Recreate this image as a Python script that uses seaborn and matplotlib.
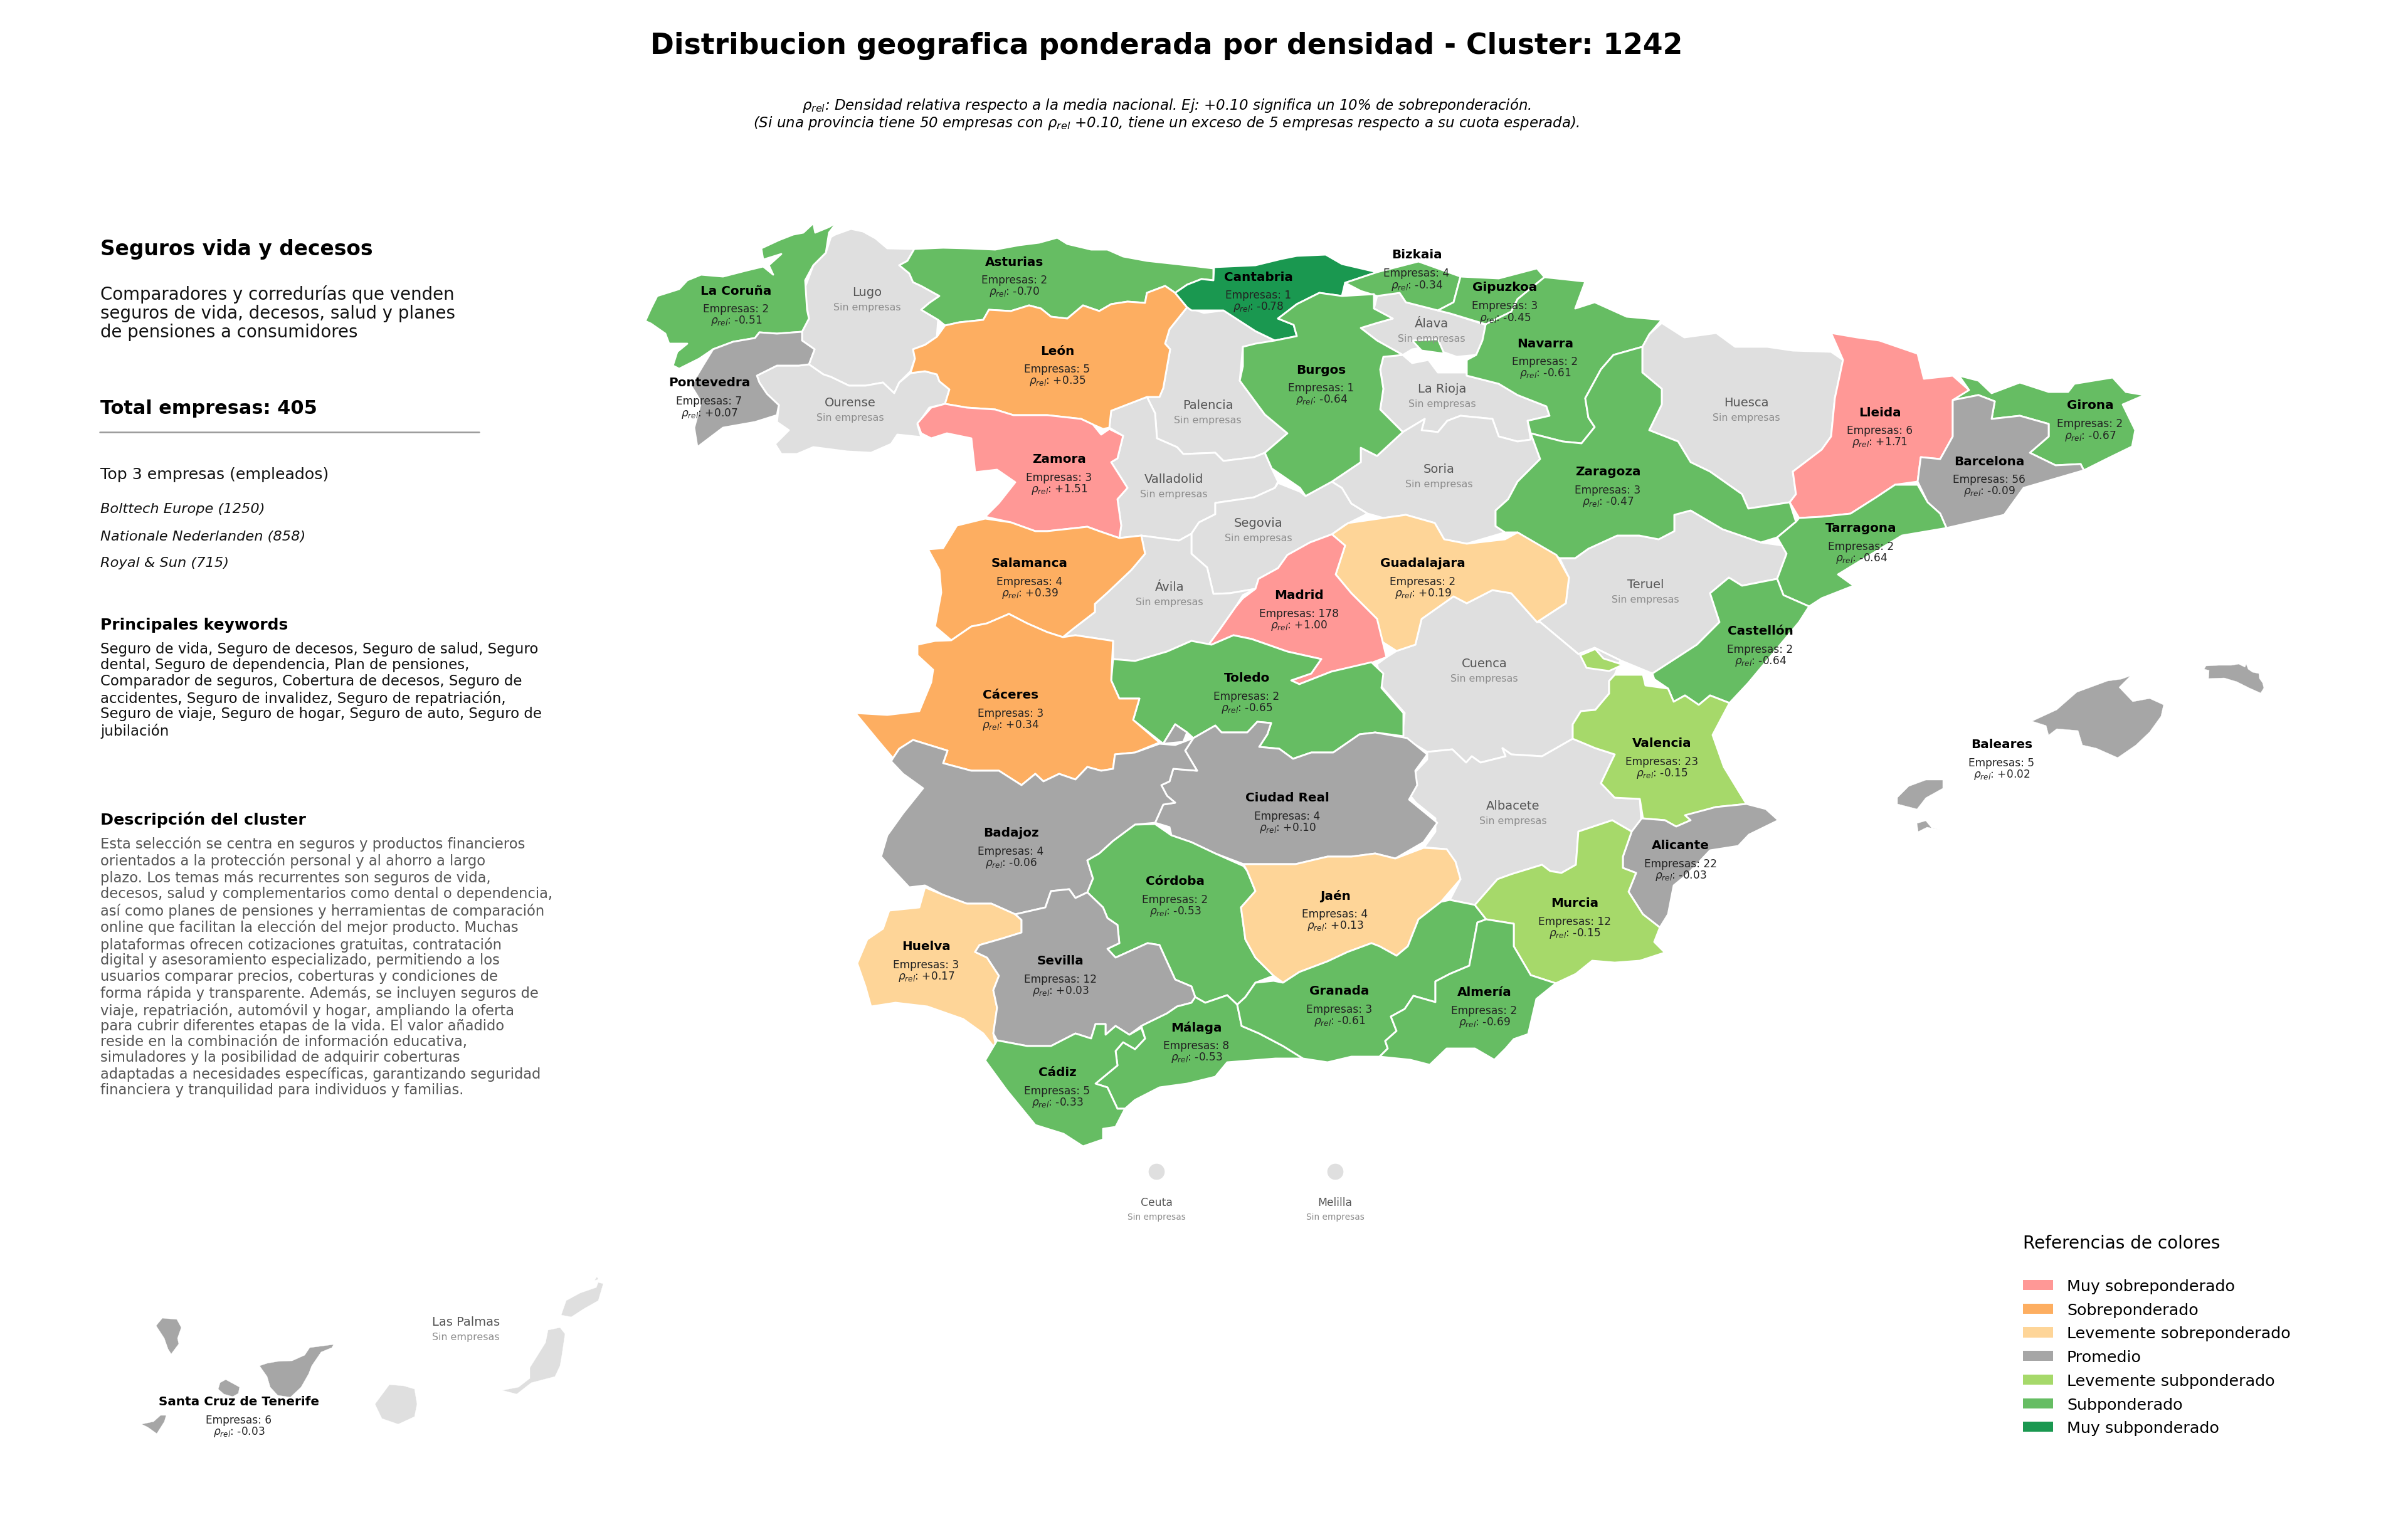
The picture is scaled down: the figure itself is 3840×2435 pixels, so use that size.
import matplotlib
matplotlib.use("Agg")
import matplotlib.pyplot as plt
from matplotlib.patches import Patch
import seaborn as sns

LA_CORUNA = [(1335,355),(1322,372),(1317,404),(1297,424),(1284,448),(1287,495),(1290,509),(1279,530),(1239,533),(1211,531),(1204,540),(1169,546),(1137,558),(1115,573),(1083,589),(1073,584),(1080,562),(1096,549),(1067,549),(1061,533),(1038,517),(1029,513),(1038,493),(1048,473),(1083,462),(1096,448),(1118,439),(1153,442),(1188,433),(1217,426),(1233,439),(1226,424),(1246,406),(1217,415),(1214,397),(1242,384),(1265,375),(1281,372),(1297,357),(1300,372),(1322,363)]
LUGO = [(1332,375),(1357,366),(1376,370),(1396,381),(1415,397),(1458,398),(1447,417),(1434,424),(1450,437),(1456,451),(1469,457),(1498,473),(1482,484),(1469,495),(1496,511),(1494,538),(1475,551),(1456,558),(1459,573),(1452,593),(1434,611),(1426,628),(1408,611),(1380,616),(1354,616),(1325,602),(1313,598),(1290,582),(1299,558),(1279,544),(1279,530),(1290,509),(1282,464),(1297,424),(1317,404),(1325,379)]
ASTURIAS = [(1458,398),(1504,396),(1542,397),(1587,399),(1625,392),(1657,388),(1686,380),(1702,390),(1740,399),(1766,399),(1791,410),(1829,417),(1893,424),(1935,429),(1935,448),(1916,446),(1893,455),(1874,468),(1858,457),(1829,468),(1826,484),(1798,482),(1772,486),(1753,497),(1727,488),(1702,509),(1676,506),(1660,493),(1641,488),(1612,497),(1577,495),(1568,511),(1530,515),(1507,520),(1496,511),(1469,495),(1482,484),(1498,473),(1469,457),(1456,451),(1450,437),(1434,424),(1447,417)]
LEON = [(1507,520),(1530,515),(1568,511),(1577,495),(1612,497),(1641,488),(1660,493),(1676,506),(1702,509),(1727,488),(1753,497),(1772,486),(1798,482),(1826,484),(1829,468),(1858,457),(1874,468),(1893,491),(1865,526),(1858,549),(1866,558),(1855,620),(1849,634),(1829,634),(1772,656),(1769,683),(1759,685),(1743,678),(1724,669),(1670,663),(1616,663),(1587,654),(1542,651),(1507,645),(1514,622),(1498,609),(1494,598),(1475,593),(1452,596),(1459,573),(1456,558),(1475,551),(1494,538)]
OURENSE = [(1426,628),(1434,611),(1452,596),(1475,593),(1494,598),(1498,609),(1514,622),(1507,645),(1482,651),(1463,678),(1469,698),(1431,694),(1421,709),(1389,723),(1351,721),(1297,714),(1271,725),(1246,725),(1236,709),(1258,687),(1239,674),(1242,647),(1223,629),(1211,611),(1207,600),(1239,584),(1274,584),(1290,582),(1313,598),(1325,602),(1354,616),(1380,616),(1408,611)]
PONTEVEDRA = [(1279,530),(1279,544),(1299,558),(1290,582),(1274,584),(1239,584),(1207,600),(1211,611),(1223,629),(1242,647),(1239,663),(1204,674),(1153,683),(1112,714),(1107,683),(1118,642),(1102,616),(1121,584),(1137,558),(1169,546),(1204,540),(1211,531),(1239,533)]
ZAMORA = [(1507,645),(1542,651),(1587,654),(1616,663),(1670,663),(1724,669),(1743,678),(1756,694),(1769,685),(1791,696),(1782,732),(1772,738),(1798,779),(1782,797),(1788,839),(1785,859),(1753,848),(1734,841),(1670,848),(1651,848),(1612,834),(1571,825),(1593,803),(1619,770),(1590,750),(1555,754),(1549,700),(1510,692),(1485,700),(1469,692),(1463,676),(1485,651)]
SALAMANCA = [(1571,828),(1612,834),(1651,848),(1670,848),(1734,841),(1753,848),(1785,859),(1820,855),(1826,884),(1804,910),(1766,946),(1746,964),(1746,977),(1711,1004),(1695,1017),(1670,1009),(1638,995),(1609,980),(1574,995),(1549,1000),(1517,1022),(1491,1000),(1501,946),(1498,910),(1480,877),(1504,875),(1526,839)]
CACERES = [(1517,1022),(1549,1000),(1574,995),(1609,980),(1638,995),(1670,1009),(1695,1017),(1715,1014),(1775,1023),(1772,1086),(1785,1115),(1817,1115),(1807,1149),(1849,1185),(1810,1201),(1778,1204),(1775,1227),(1756,1230),(1734,1224),(1715,1244),(1689,1235),(1664,1247),(1651,1235),(1629,1253),(1593,1230),(1549,1230),(1504,1218),(1511,1198),(1456,1181),(1434,1195),(1424,1210),(1402,1184),(1364,1138),(1415,1141),(1466,1135),(1485,1089),(1488,1069),(1463,1046),(1463,1029),(1491,1023)]
BADAJOZ = [(1424,1210),(1434,1195),(1456,1181),(1511,1198),(1504,1218),(1549,1230),(1593,1230),(1629,1253),(1651,1235),(1664,1247),(1689,1235),(1715,1244),(1734,1224),(1756,1230),(1775,1227),(1778,1204),(1810,1201),(1849,1187),(1874,1189),(1903,1178),(1890,1198),(1909,1230),(1871,1227),(1865,1247),(1852,1253),(1861,1270),(1874,1281),(1855,1284),(1842,1313),(1810,1316),(1775,1342),(1753,1362),(1734,1373),(1743,1402),(1734,1424),(1715,1433),(1705,1419),(1676,1422),(1667,1448),(1619,1459),(1581,1442),(1542,1442),(1504,1428),(1475,1413),(1450,1416),(1421,1385),(1405,1367),(1415,1333),(1440,1298),(1472,1258),(1440,1235),(1421,1215)]
BADAJOZ_ISLET = [(1855,1187),(1874,1156),(1893,1169),(1887,1184)]
CIUDAD_REAL = [(1903,1178),(1938,1158),(1948,1169),(1989,1169),(2005,1152),(2027,1154),(2021,1172),(2008,1192),(2040,1195),(2062,1211),(2091,1201),(2126,1201),(2168,1172),(2193,1169),(2244,1178),(2276,1204),(2257,1230),(2260,1253),(2247,1276),(2292,1313),(2270,1344),(2225,1370),(2193,1362),(2155,1367),(2117,1367),(2066,1379),(1983,1379),(1938,1362),(1900,1344),(1868,1333),(1865,1320),(1842,1313),(1855,1284),(1874,1281),(1861,1270),(1852,1253),(1865,1247),(1871,1227),(1909,1230),(1890,1198)]
TOLEDO = [(1775,1052),(1810,1055),(1861,1040),(1900,1023),(1932,1029),(1967,1014),(1996,1020),(2053,1040),(2107,1052),(2091,1075),(2059,1086),(2072,1092),(2123,1072),(2187,1057),(2206,1075),(2203,1098),(2238,1138),(2238,1175),(2193,1169),(2168,1172),(2126,1201),(2091,1201),(2062,1211),(2040,1195),(2008,1192),(2021,1172),(2027,1154),(2005,1152),(1989,1169),(1948,1169),(1938,1158),(1903,1178),(1893,1169),(1874,1156),(1855,1187),(1807,1149),(1817,1115),(1785,1115),(1772,1086)]
MADRID = [(2124,853),(2145,871),(2130,917),(2155,947),(2196,988),(2211,1049),(2187,1058),(2123,1072),(2072,1092),(2059,1086),(2091,1075),(2107,1052),(2053,1040),(1996,1020),(1967,1014),(1932,1029),(1926,1031),(1945,1005),(1971,968),(1982,955),(2002,940),(2007,924),(2038,907),(2053,886),(2089,866)]
GUADALAJARA = [(2124,853),(2150,835),(2206,827),(2242,822),(2288,835),(2303,861),(2339,868),(2400,861),(2420,850),(2482,886),(2502,922),(2497,963),(2451,993),(2410,947),(2380,942),(2339,963),(2318,952),(2267,988),(2257,1029),(2227,1039),(2191,1016),(2196,988),(2155,947),(2130,917),(2145,871)]
CANTABRIA = [(1936,427),(2002,424),(2043,414),(2068,409),(2114,407),(2140,422),(2196,435),(2145,452),(2140,473),(2104,468),(2068,486),(2038,509),(2063,519),(2068,537),(2033,544),(2002,529),(1951,496),(1900,496),(1893,491),(1874,468),(1893,455),(1916,446),(1935,448)]
PALENCIA = [(1893,491),(1865,526),(1858,549),(1866,558),(1855,620),(1849,634),(1829,634),(1842,660),(1845,700),(1877,714),(1887,725),(1938,723),(1951,736),(2000,730),(2017,723),(2053,692),(2017,662),(1977,608),(1982,554),(2033,544),(2002,529),(1951,496),(1920,500)]
BURGOS = [(2002,549),(2033,544),(2068,537),(2063,519),(2038,509),(2068,486),(2104,468),(2140,473),(2191,470),(2191,493),(2221,509),(2196,516),(2170,524),(2196,544),(2237,567),(2206,570),(2201,590),(2206,621),(2201,654),(2237,690),(2196,728),(2170,715),(2170,738),(2124,769),(2082,792),(2073,779),(2028,748),(2017,723),(2053,692),(2017,662),(1977,608),(1982,585),(1982,554)]
TREVINO = [(2252,544),(2293,542),(2303,565),(2267,560)]
BIZKAIA = [(2196,435),(2262,418),(2329,442),(2318,483),(2293,496),(2242,483),(2232,468),(2196,473),(2170,465),(2145,452)]
GIPUZKOA = [(2329,442),(2390,445),(2451,429),(2463,443),(2420,478),(2410,498),(2369,518),(2313,501),(2293,496),(2318,483)]
NAVARRA = [(2463,443),(2482,445),(2528,450),(2512,493),(2543,483),(2594,506),(2650,511),(2630,534),(2619,554),(2573,567),(2553,590),(2528,636),(2533,667),(2543,682),(2522,708),(2492,705),(2441,692),(2436,672),(2471,664),(2466,649),(2420,631),(2390,613),(2339,600),(2339,575),(2354,567),(2364,544),(2369,519),(2369,518),(2410,498),(2420,478)]
ALAVA = [(2196,473),(2232,468),(2242,483),(2293,496),(2313,501),(2369,519),(2364,544),(2354,567),(2323,570),(2278,554),(2252,558),(2237,567),(2196,544),(2170,524),(2196,516),(2221,509),(2191,493)]
LA_RIOJA = [(2206,570),(2237,567),(2252,580),(2278,575),(2293,595),(2339,595),(2339,600),(2390,613),(2420,631),(2466,649),(2471,664),(2436,672),(2441,702),(2420,705),(2390,697),(2380,669),(2329,664),(2308,672),(2293,690),(2267,687),(2272,669),(2237,690),(2201,654),(2206,621),(2201,590)]
SORIA = [(2237,690),(2272,669),(2267,687),(2293,690),(2308,672),(2329,664),(2380,669),(2390,697),(2420,705),(2441,702),(2441,692),(2456,733),(2420,769),(2405,797),(2385,815),(2385,840),(2400,850),(2339,868),(2303,861),(2288,835),(2242,822),(2206,827),(2181,820),(2155,804),(2140,779),(2124,769),(2170,738),(2170,715),(2196,728)]
ZARAGOZA = [(2441,692),(2492,705),(2522,708),(2543,682),(2533,667),(2528,636),(2553,590),(2573,567),(2619,554),(2619,595),(2650,621),(2650,646),(2630,687),(2676,705),(2696,738),(2727,753),(2778,789),(2788,812),(2854,802),(2864,833),(2834,858),(2808,866),(2747,845),(2696,815),(2670,822),(2670,848),(2645,861),(2614,855),(2579,855),(2533,876),(2512,891),(2487,891),(2420,850),(2400,850),(2385,840),(2385,815),(2405,797),(2420,769),(2456,733)]
HUESCA = [(2650,516),(2686,539),(2737,532),(2767,554),(2818,554),(2859,560),(2920,562),(2939,575),(2926,636),(2920,697),(2905,718),(2859,753),(2864,789),(2854,802),(2788,812),(2778,789),(2727,753),(2696,738),(2676,705),(2630,687),(2650,646),(2650,621),(2619,595),(2619,554),(2630,534)]
LLEIDA = [(2920,532),(2961,539),(2997,544),(3058,565),(3068,605),(3114,600),(3140,623),(3114,641),(3114,697),(3094,733),(3063,730),(3058,769),(3022,774),(2992,794),(2951,820),(2905,825),(2869,827),(2854,802),(2864,789),(2859,753),(2905,718),(2920,697),(2926,636),(2939,575)]
GIRONA = [(3124,600),(3155,608),(3176,628),(3221,611),(3267,626),(3298,626),(3308,613),(3369,603),(3390,626),(3420,631),(3385,646),(3405,687),(3400,713),(3359,733),(3323,751),(3318,741),(3278,743),(3237,723),(3267,697),(3267,677),(3221,664),(3176,669),(3181,641),(3155,631),(3114,639),(3140,623)]
BARCELONA = [(3114,639),(3155,631),(3181,641),(3176,669),(3221,664),(3267,677),(3267,697),(3237,723),(3278,743),(3318,741),(3323,751),(3227,779),(3196,822),(3104,843),(3094,820),(3074,802),(3058,769),(3063,730),(3094,733),(3114,697)]
TARRAGONA = [(3058,774),(3074,802),(3094,820),(3104,843),(3033,855),(2982,886),(2931,917),(2956,935),(2905,955),(2885,968),(2844,950),(2834,924),(2849,884),(2834,858),(2864,833),(2869,827),(2905,825),(2951,820),(2992,794),(3022,774)]
TERUEL = [(2487,891),(2512,891),(2533,876),(2579,855),(2614,855),(2645,861),(2670,848),(2670,822),(2696,815),(2747,845),(2808,866),(2844,871),(2849,884),(2834,924),(2778,935),(2757,922),(2727,947),(2742,993),(2706,1029),(2635,1075),(2584,1054),(2543,1034),(2517,1044),(2456,993),(2451,993),(2497,963),(2502,922)]
CASTELLON = [(2757,922),(2778,935),(2834,924),(2844,950),(2885,968),(2869,993),(2818,1054),(2788,1090),(2758,1122),(2727,1110),(2709,1125),(2687,1110),(2669,1120),(2660,1099),(2638,1084),(2635,1075),(2706,1029),(2742,993),(2727,947)]
CUENCA = [(2257,1029),(2267,988),(2318,952),(2339,963),(2380,942),(2410,947),(2451,993),(2456,993),(2517,1044),(2543,1034),(2584,1054),(2575,1077),(2566,1087),(2566,1107),(2544,1133),(2521,1135),(2508,1156),(2508,1179),(2459,1207),(2410,1204),(2396,1194),(2401,1207),(2361,1217),(2347,1207),(2338,1217),(2316,1196),(2276,1200),(2236,1176),(2240,1138),(2204,1097),(2196,1060),(2211,1049),(2227,1039)]
ADEMUZ = [(2544,1036),(2557,1051),(2588,1061),(2566,1071),(2530,1066),(2520,1046)]
VALENCIA = [(2566,1087),(2575,1077),(2620,1077),(2624,1094),(2660,1099),(2669,1120),(2687,1110),(2709,1125),(2727,1110),(2758,1122),(2731,1173),(2749,1224),(2785,1283),(2736,1288),(2691,1301),(2696,1309),(2673,1319),(2655,1309),(2620,1306),(2615,1275),(2575,1273),(2553,1250),(2575,1204),(2544,1194),(2508,1179),(2508,1156),(2521,1135),(2544,1133),(2566,1107)]
ALBACETE = [(2276,1200),(2316,1196),(2338,1217),(2347,1207),(2361,1217),(2401,1207),(2396,1194),(2410,1204),(2459,1207),(2508,1179),(2544,1194),(2575,1204),(2553,1250),(2575,1273),(2615,1275),(2618,1321),(2602,1327),(2571,1309),(2535,1321),(2517,1327),(2513,1380),(2490,1393),(2472,1390),(2459,1380),(2410,1395),(2388,1403),(2352,1444),(2312,1436),(2329,1403),(2321,1375),(2303,1355),(2271,1352),(2289,1327),(2289,1306),(2258,1281),(2249,1270),(2254,1235),(2276,1212)]
JAEN = [(1983,1379),(2066,1379),(2117,1367),(2155,1367),(2193,1362),(2225,1370),(2270,1353),(2307,1355),(2321,1375),(2329,1403),(2298,1439),(2262,1467),(2245,1510),(2227,1525),(2200,1510),(2187,1505),(2149,1519),(2117,1534),(2072,1551),(2046,1568),(2031,1557),(2002,1528),(1986,1499),(1979,1448),(2002,1422),(1989,1390)]
CORDOBA = [(1842,1315),(1868,1333),(1900,1344),(1938,1362),(1983,1382),(1989,1390),(2002,1422),(1979,1448),(1986,1499),(2002,1528),(2031,1557),(2002,1568),(1986,1591),(1973,1603),(1957,1588),(1922,1600),(1906,1591),(1900,1574),(1874,1563),(1858,1528),(1849,1508),(1830,1505),(1810,1514),(1779,1528),(1766,1514),(1785,1505),(1782,1476),(1766,1465),(1759,1448),(1734,1424),(1743,1402),(1734,1373),(1753,1362),(1775,1342),(1810,1316)]
SEVILLA = [(1619,1459),(1667,1448),(1676,1422),(1705,1419),(1715,1433),(1734,1424),(1759,1448),(1766,1465),(1782,1476),(1785,1505),(1766,1514),(1779,1528),(1810,1514),(1830,1505),(1849,1508),(1858,1528),(1874,1563),(1900,1574),(1906,1591),(1900,1600),(1877,1606),(1861,1617),(1820,1637),(1801,1651),(1779,1637),(1763,1651),(1763,1634),(1747,1634),(1740,1657),(1715,1649),(1676,1669),(1638,1669),(1590,1660),(1584,1649),(1590,1608),(1584,1580),(1593,1557),(1574,1528),(1555,1519),(1562,1508),(1600,1497),(1629,1488),(1629,1468)]
HUELVA = [(1475,1416),(1504,1428),(1542,1442),(1581,1442),(1619,1459),(1629,1468),(1629,1488),(1600,1497),(1562,1508),(1555,1519),(1574,1528),(1593,1557),(1584,1580),(1590,1608),(1584,1649),(1590,1677),(1568,1649),(1536,1626),(1479,1606),(1428,1600),(1389,1606),(1380,1574),(1367,1537),(1383,1499),(1408,1482),(1418,1453),(1466,1448)]
CADIZ = [(1590,1660),(1638,1669),(1676,1669),(1715,1649),(1740,1657),(1747,1634),(1763,1634),(1763,1651),(1779,1637),(1801,1651),(1820,1640),(1826,1657),(1810,1674),(1791,1663),(1779,1677),(1782,1700),(1747,1729),(1766,1735),(1782,1769),(1794,1769),(1779,1798),(1759,1801),(1759,1818),(1727,1829),(1696,1809),(1651,1795),(1606,1740),(1571,1692)]
MALAGA = [(1820,1637),(1861,1617),(1877,1606),(1900,1600),(1906,1591),(1922,1600),(1957,1588),(1973,1603),(1980,1637),(2008,1649),(2046,1669),(2078,1689),(2034,1689),(1957,1695),(1938,1718),(1893,1729),(1849,1735),(1810,1755),(1794,1769),(1782,1769),(1766,1735),(1747,1729),(1782,1700),(1779,1677),(1791,1663),(1810,1674),(1826,1657)]
GRANADA = [(1973,1603),(1986,1591),(2002,1568),(2031,1565),(2046,1568),(2072,1551),(2117,1534),(2149,1519),(2187,1505),(2200,1510),(2227,1525),(2245,1510),(2262,1467),(2298,1439),(2312,1436),(2352,1444),(2370,1467),(2356,1472),(2347,1520),(2343,1541),(2312,1554),(2289,1566),(2289,1599),(2254,1589),(2240,1610),(2218,1622),(2227,1645),(2209,1661),(2213,1673),(2200,1686),(2155,1686),(2117,1695),(2078,1689),(2046,1669),(2008,1649),(1980,1637)]
ALMERIA = [(2356,1472),(2370,1467),(2414,1474),(2414,1510),(2441,1556),(2481,1569),(2450,1594),(2437,1650),(2414,1658),(2401,1673),(2383,1691),(2352,1673),(2334,1673),(2307,1673),(2280,1699),(2249,1691),(2200,1686),(2213,1673),(2209,1661),(2227,1645),(2218,1622),(2240,1610),(2254,1589),(2289,1599),(2289,1566),(2312,1554),(2343,1541),(2347,1520)]
MURCIA = [(2513,1380),(2517,1327),(2535,1321),(2571,1309),(2602,1327),(2588,1367),(2588,1385),(2609,1393),(2597,1423),(2620,1459),(2647,1480),(2638,1503),(2655,1520),(2615,1533),(2575,1536),(2539,1533),(2513,1554),(2481,1569),(2441,1556),(2414,1510),(2414,1474),(2370,1467),(2352,1444),(2388,1403),(2410,1395),(2459,1380),(2472,1390),(2490,1393)]
ALICANTE = [(2618,1306),(2655,1309),(2673,1319),(2696,1309),(2687,1301),(2736,1288),(2785,1283),(2816,1291),(2836,1309),(2789,1332),(2772,1350),(2727,1357),(2691,1395),(2669,1413),(2660,1459),(2647,1480),(2620,1459),(2597,1423),(2609,1393),(2588,1385),(2588,1367),(2602,1327)]
SEGOVIA = [(1900,852),(1912,834),(1938,821),(1938,803),(2000,794),(2033,779),(2038,771),(2073,785),(2082,792),(2124,769),(2140,779),(2155,804),(2181,820),(2145,838),(2124,853),(2089,866),(2053,886),(2038,907),(2007,924),(2002,940),(1961,947),(1935,948),(1925,906),(1900,884)]
AVILA = [(1820,855),(1826,884),(1804,910),(1766,946),(1746,964),(1746,977),(1711,1004),(1695,1017),(1715,1014),(1775,1023),(1775,1052),(1810,1055),(1861,1040),(1900,1023),(1926,1031),(1945,1005),(1971,968),(1982,950),(2002,940),(1961,947),(1935,948),(1925,906),(1900,884),(1900,852),(1880,863)]
VALLADOLID = [(1769,683),(1772,656),(1829,634),(1842,660),(1845,700),(1877,714),(1887,725),(1938,723),(1951,736),(2000,730),(2017,723),(2028,748),(2038,769),(2033,779),(2000,794),(1938,803),(1938,821),(1912,834),(1900,852),(1880,863),(1820,855),(1785,859),(1788,839),(1782,797),(1798,779),(1772,738),(1782,732),(1791,696)]
MALLORCA = [(3241,1151),(3280,1133),(3312,1105),(3361,1087),(3383,1084),(3397,1079),(3379,1097),(3401,1120),(3428,1115),(3450,1125),(3446,1143),(3428,1168),(3406,1189),(3377,1209),(3343,1194),(3321,1189),(3314,1166),(3280,1163),(3267,1173),(3263,1158)]
MENORCA = [(3515,1068),(3518,1063),(3538,1062),(3558,1062),(3570,1060),(3580,1065),(3582,1060),(3585,1068),(3592,1073),(3602,1075),(3603,1083),(3608,1090),(3610,1098),(3605,1106),(3587,1098),(3567,1088),(3547,1082),(3522,1083),(3523,1070)]
IBIZA = [(3026,1273),(3044,1255),(3071,1245),(3098,1245),(3098,1258),(3071,1273),(3057,1291),(3026,1283)]
FORMENTERA = [(3057,1314),(3071,1310),(3080,1321),(3093,1324),(3073,1320),(3059,1327)]
LA_PALMA = [(249,2115),(259,2103),(282,2105),(289,2118),(283,2135),(285,2144),(273,2160),(268,2152),(262,2135)]
TENERIFE = [(414,2179),(426,2175),(443,2172),(466,2171),(486,2162),(494,2150),(517,2147),(532,2145),(529,2150),(512,2157),(497,2179),(492,2192),(480,2213),(463,2229),(443,2226),(431,2213),(426,2196)]
LA_GOMERA = [(351,2206),(360,2201),(382,2213),(380,2223),(371,2228),(357,2224),(348,2216)]
EL_HIERRO = [(226,2272),(245,2268),(256,2258),(265,2258),(262,2268),(250,2287),(236,2277)]
GRAN_CANARIA = [(598,2240),(621,2209),(644,2211),(661,2216),(665,2240),(661,2260),(635,2272),(609,2263)]
FUERTEVENTURA = [(801,2218),(827,2213),(845,2199),(845,2182),(870,2142),(874,2122),(893,2118),(901,2128),(896,2162),(893,2179),(885,2196),(847,2206),(824,2224)]
LANZAROTE = [(895,2098),(903,2075),(925,2063),(951,2054),(954,2046),(962,2048),(954,2075),(931,2088),(911,2101)]
LA_GRACIOSA = [(948,2043),(952,2037),(954,2041)]

CATEGORIES = ["Muy sobreponderado", "Sobreponderado", "Levemente sobreponderado", "Promedio",
              "Levemente subponderado", "Subponderado", "Muy subponderado"]
CATEGORY_COLORS = ["#FF9896", "#FDAE61", "#FED598", "#A6A6A6", "#A6D96A", "#66BD63", "#1A9850"]
EMPTY_COLOR = "#DFDFDF"

# provinces with companies
PROVINCES = ["La Coruña", "Asturias", "Pontevedra", "León", "Zamora", "Salamanca", "Cantabria", "Bizkaia",
             "Gipuzkoa", "Navarra", "Burgos", "Zaragoza", "Lleida", "Girona", "Barcelona", "Tarragona",
             "Guadalajara", "Madrid", "Castellón", "Toledo", "Cáceres", "Ciudad Real", "Badajoz", "Córdoba",
             "Jaén", "Huelva", "Sevilla", "Málaga", "Granada", "Cádiz", "Valencia", "Alicante", "Murcia",
             "Almería", "Baleares", "Santa Cruz de Tenerife"]
EMPRESAS = [2, 2, 7, 5, 3, 4, 1, 4, 3, 2, 1, 3, 6, 2, 56, 2, 2, 178, 2, 2, 3, 4, 4, 2, 4, 3, 12, 8, 3, 5, 23, 22, 12, 2, 5, 6]
RHO = [-0.51, -0.70, 0.07, 0.35, 1.51, 0.39, -0.78, -0.34, -0.45, -0.61, -0.64, -0.47, 1.71, -0.67, -0.09, -0.64,
       0.19, 1.00, -0.64, -0.65, 0.34, 0.10, -0.06, -0.53, 0.13, 0.17, 0.03, -0.53, -0.61, -0.33, -0.15, -0.03,
       -0.15, -0.69, 0.02, -0.03]
BANDS = [5, 5, 3, 1, 0, 1, 6, 5, 5, 5, 5, 5, 0, 5, 3, 5, 2, 0, 5, 5, 1, 3, 3, 5, 2, 2, 3, 5, 5, 5, 4, 3, 4, 5, 3, 3]
OUTLINES = [[LA_CORUNA], [ASTURIAS], [PONTEVEDRA], [LEON], [ZAMORA], [SALAMANCA], [CANTABRIA], [BIZKAIA],
            [GIPUZKOA], [NAVARRA], [BURGOS], [ZARAGOZA], [LLEIDA], [GIRONA], [BARCELONA], [TARRAGONA],
            [GUADALAJARA], [MADRID], [CASTELLON], [TOLEDO], [CACERES], [CIUDAD_REAL], [BADAJOZ, BADAJOZ_ISLET], [CORDOBA],
            [JAEN], [HUELVA], [SEVILLA], [MALAGA], [GRANADA], [CADIZ], [VALENCIA], [ALICANTE], [MURCIA],
            [ALMERIA], [MALLORCA, MENORCA, IBIZA, FORMENTERA], [LA_PALMA, TENERIFE, LA_GOMERA, EL_HIERRO]]
ISLAND_GROUPS = ["Baleares", "Santa Cruz de Tenerife", "Las Palmas"]
LABEL_X = [1174, 1618, 1131, 1686, 1689, 1642, 2007, 2259, 2400, 2464, 2107, 2564, 2998, 3333, 3172, 2968,
           2269, 2071, 2807, 1988, 1612, 2053, 1612, 1874, 2129, 1477, 1691, 1908, 2136, 1686, 2650, 2680, 2511,
           2367, 3192, 381]
LABEL_Y = [464, 418, 611, 560, 733, 899, 442, 407, 459, 548, 590, 753, 658, 647, 736, 843,
           899, 950, 1007, 1082, 1109, 1273, 1329, 1406, 1429, 1510, 1533, 1639, 1581, 1711, 1186, 1349, 1441,
           1583, 1188, 2236]

# provinces without companies
EMPTY_PROVINCES = ["Lugo", "Ourense", "Palencia", "Valladolid", "Segovia", "Ávila", "Álava", "La Rioja", "Soria",
                   "Huesca", "Teruel", "Cuenca", "Albacete", "Las Palmas"]
EMPTY_OUTLINES = [[LUGO], [OURENSE], [PALENCIA], [VALLADOLID], [SEGOVIA], [AVILA], [ALAVA], [LA_RIOJA], [SORIA],
                  [HUESCA], [TERUEL], [CUENCA], [ALBACETE], [GRAN_CANARIA, FUERTEVENTURA, LANZAROTE, LA_GRACIOSA]]
EMPTY_X = [1383, 1356, 1926, 1872, 2007, 1865, 2283, 2300, 2295, 2785, 2624, 2367, 2413, 743]
EMPTY_Y = [467, 643, 646, 765, 835, 937, 517, 621, 749, 643, 933, 1059, 1286, 2109]

CITY_NAMES = ["Ceuta", "Melilla"]
CITY_X = [1844, 2129]
CITY_Y = [1869, 1869]

TITLE = "Distribucion geografica ponderada por densidad - Cluster: 1242"
SUBTITLE = [r"$\rho_{rel}$: Densidad relativa respecto a la media nacional. Ej: +0.10 significa un 10% de sobreponderación.",
            r"(Si una provincia tiene 50 empresas con $\rho_{rel}$ +0.10, tiene un exceso de 5 empresas respecto a su cuota esperada)."]
INTRO = ["Comparadores y corredurías que venden", "seguros de vida, decesos, salud y planes", "de pensiones a consumidores"]
TOP3 = ["Bolttech Europe (1250)", "Nationale Nederlanden (858)", "Royal & Sun (715)"]
KEYWORDS = ["Seguro de vida, Seguro de decesos, Seguro de salud, Seguro",
            "dental, Seguro de dependencia, Plan de pensiones,",
            "Comparador de seguros, Cobertura de decesos, Seguro de",
            "accidentes, Seguro de invalidez, Seguro de repatriación,",
            "Seguro de viaje, Seguro de hogar, Seguro de auto, Seguro de",
            "jubilación"]
DESCRIPTION = ["Esta selección se centra en seguros y productos financieros",
               "orientados a la protección personal y al ahorro a largo",
               "plazo. Los temas más recurrentes son seguros de vida,",
               "decesos, salud y complementarios como dental o dependencia,",
               "así como planes de pensiones y herramientas de comparación",
               "online que facilitan la elección del mejor producto. Muchas",
               "plataformas ofrecen cotizaciones gratuitas, contratación",
               "digital y asesoramiento especializado, permitiendo a los",
               "usuarios comparar precios, coberturas y condiciones de",
               "forma rápida y transparente. Además, se incluyen seguros de",
               "viaje, repatriación, automóvil y hogar, ampliando la oferta",
               "para cubrir diferentes etapas de la vida. El valor añadido",
               "reside en la combinación de información educativa,",
               "simuladores y la posibilidad de adquirir coberturas",
               "adaptadas a necesidades específicas, garantizando seguridad",
               "financiera y tranquilidad para individuos y familias."]
INTRO_Y = [469, 500, 530]
TOP3_Y = [812, 856, 898]
KEYWORDS_Y = [1036, 1061, 1087, 1114, 1139, 1166]
DESCRIPTION_Y = [1346, 1373, 1400, 1426, 1453, 1479, 1507, 1532, 1558, 1584, 1612, 1637, 1662, 1687, 1713, 1739]

sns.set_theme(style="white", font="DejaVu Sans")
palette = sns.color_palette(CATEGORY_COLORS)

fig = plt.figure(figsize=(12.8, 8.12), dpi=300)
ax = fig.add_axes([0, 0, 1, 1])
ax.set_xlim(0, 3840)
ax.set_ylim(2436, 0)
ax.axis("off")


def draw_rings(rings, color, width=0.7):
    for ring in rings:
        xs, ys = zip(*ring)
        ax.fill(xs, ys, facecolor=color, edgecolor="white", linewidth=width, joinstyle="round", zorder=2)


for name, rings in zip(EMPTY_PROVINCES, EMPTY_OUTLINES):
    draw_rings(rings, EMPTY_COLOR, 0.1 if name in ISLAND_GROUPS else 0.7)
for name, rings, band in zip(PROVINCES, OUTLINES, BANDS):
    draw_rings(rings, palette[band], 0.1 if name in ISLAND_GROUPS else 0.7)
draw_rings([ADEMUZ], palette[4])
draw_rings([TREVINO], palette[5])

sns.scatterplot(x=CITY_X, y=CITY_Y, s=38, color=EMPTY_COLOR, linewidth=0, legend=False, ax=ax, zorder=2)

for name, n, rho, x, y in zip(PROVINCES, EMPRESAS, RHO, LABEL_X, LABEL_Y):
    ax.text(x, y, name, ha="center", va="center", fontsize=4.8, fontweight="bold", color="black", zorder=3)
    ax.text(x, y + 29, f"Empresas: {n}", ha="center", va="center", fontsize=4.1, color="#222222", zorder=3)
    ax.text(x, y + 48, rf"$\rho_{{rel}}$: {rho:+.2f}", ha="center", va="center", fontsize=4.1, color="#222222", zorder=3)

for name, x, y in zip(EMPTY_PROVINCES, EMPTY_X, EMPTY_Y):
    ax.text(x, y, name, ha="center", va="center", fontsize=4.7, color="#555555", zorder=3)
    ax.text(x, y + 24, "Sin empresas", ha="center", va="center", fontsize=3.8, color="#8c8c8c", zorder=3)

for name, x in zip(CITY_NAMES, CITY_X):
    ax.text(x, 1918, name, ha="center", va="center", fontsize=4.15, color="#555555")
    ax.text(x, 1941, "Sin empresas", ha="center", va="center", fontsize=3.3, color="#8c8c8c")

ax.text(1860, 73, TITLE, ha="center", va="center", fontsize=10.95, fontweight="bold", color="black")
ax.text(1860, 168, SUBTITLE[0], ha="center", va="center", fontsize=5.5, style="italic", color="black")
ax.text(1860, 197, SUBTITLE[1], ha="center", va="center", fontsize=5.5, style="italic", color="black")

LEFT = 160
ax.text(LEFT, 398, "Seguros vida y decesos", va="center", fontsize=7.9, fontweight="bold", color="black")
for line, y in zip(INTRO, INTRO_Y):
    ax.text(LEFT, y, line, va="center", fontsize=6.65, color="#111111")
ax.text(LEFT, 651, "Total empresas: 405", va="center", fontsize=7.3, fontweight="bold", color="black")
ax.plot([159, 764], [690, 690], color="#999999", linewidth=0.6)
ax.text(LEFT, 757, "Top 3 empresas (empleados)", va="center", fontsize=6.05, color="#111111")
for line, y in zip(TOP3, TOP3_Y):
    ax.text(LEFT, y, line, va="center", fontsize=5.4, style="italic", color="#111111")
ax.text(LEFT, 997, "Principales keywords", va="center", fontsize=6.0, fontweight="bold", color="black")
for line, y in zip(KEYWORDS, KEYWORDS_Y):
    ax.text(LEFT, y, line, va="center", fontsize=5.5, color="#111111")
ax.text(LEFT, 1307, "Descripción del cluster", va="center", fontsize=6.1, fontweight="bold", color="black")
for line, y in zip(DESCRIPTION, DESCRIPTION_Y):
    ax.text(LEFT, y, line, va="center", fontsize=5.45, color="#555555")

ax.text(3226, 1983, "Referencias de colores", va="center", fontsize=6.7, color="black")
handles = [Patch(facecolor=c, edgecolor="none", label=lab) for c, lab in zip(palette, CATEGORIES)]
ax.legend(handles=handles, loc="upper left", bbox_to_anchor=(3226, 2040), bbox_transform=ax.transData,
          frameon=False, fontsize=6.1, handlelength=1.88, handleheight=0.6, handletextpad=0.87,
          labelspacing=0.54, borderpad=0, borderaxespad=0, labelcolor="black")

fig.savefig("out.png", dpi=300, facecolor="white")
plt.close(fig)
